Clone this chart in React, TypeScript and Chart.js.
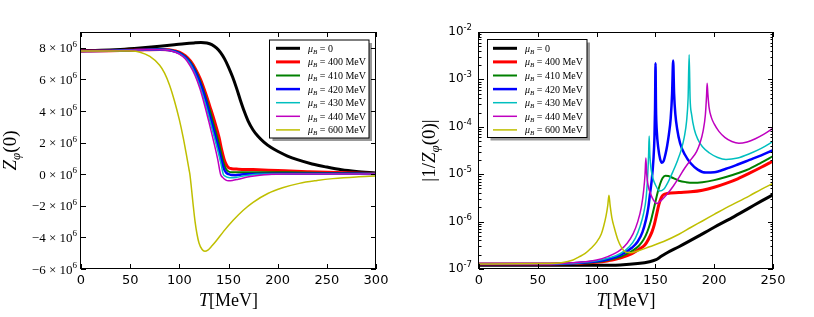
import React, { useEffect, useRef } from 'react';
import { Chart, registerables } from 'chart.js';
Chart.register(...registerables);

const W = 814;
const H = 317;
type Pt = [number, number];

// ---------- labels / styles ----------
const LEGEND_VALUES = ['0', '400 MeV', '410 MeV', '420 MeV', '430 MeV', '440 MeV', '600 MeV'];
const COLORS = ['#000000', '#ff0000', '#008000', '#0000ff', '#00bfbf', '#bf00bf', '#bfbf00'];
const WIDTHS = [3, 3, 2, 2.5, 1.5, 1.5, 1.5];

const xTicksLeft = [0, 50, 100, 150, 200, 250, 300];
const xTicksRight = [0, 50, 100, 150, 200, 250];
const yTicksLeft = [-6, -4, -2, 0, 2, 4, 6, 8]; // in units of 10^6
const yExpRight = [-7, -6, -5, -4, -3, -2];

// ---------- left panel: Z_phi(0) in units of 10^6 ----------
const zBlack: Pt[] = [[0,7.82],[20,7.84],[40,7.9],[60,7.99],[80,8.1],[95,8.19],[105,8.26],[115,8.31],[122,8.33],[128,8.3],[133,8.2],[138,7.98],[142,7.7],[146,7.3],[150,6.78],[154,6.18],[158,5.48],[162,4.7],[166,3.98],[170,3.36],[175,2.8],[180,2.4],[186,2.03],[193,1.7],[200,1.45],[210,1.15],[220,0.92],[235,0.65],[250,0.45],[265,0.28],[280,0.17],[300,0.07]];
const zRed: Pt[] = [[0,7.8],[30,7.81],[50,7.84],[65,7.88],[80,7.9],[90,7.87],[100,7.73],[106,7.5],[111.5,7.15],[116.5,6.65],[121.5,6.0],[126.5,5.15],[131.5,4.2],[136.5,3.2],[140.5,2.3],[143,1.55],[145.5,0.95],[147.8,0.6],[150,0.42],[153,0.35],[160,0.32],[175,0.29],[200,0.23],[230,0.16],[260,0.1],[300,0.05]];
const zGreen: Pt[] = [[0,7.8],[30,7.81],[50,7.84],[65,7.88],[80,7.9],[90,7.86],[100,7.7],[106,7.45],[111.5,7.08],[116.5,6.55],[121.5,5.85],[126.5,4.95],[131.5,3.95],[136,2.9],[140,2.0],[142.8,1.25],[145,0.7],[147.3,0.35],[150,0.17],[154,0.12],[160,0.12],[180,0.13],[210,0.12],[250,0.08],[300,0.04]];
const zBlue: Pt[] = [[0,7.8],[30,7.81],[50,7.84],[65,7.88],[80,7.89],[90,7.85],[100,7.67],[106,7.4],[111.5,7.0],[116.5,6.45],[121.5,5.7],[126.5,4.75],[131,3.7],[135.8,2.6],[139.6,1.7],[142.5,0.95],[145.2,0.35],[147.6,0.1],[150.1,0],[153,-0.05],[157,-0.06],[161,-0.04],[165.1,0],[175,0.02],[200,0.03],[250,0.03],[300,0.02]];
const zCyan: Pt[] = [[0,7.8],[30,7.81],[50,7.84],[65,7.88],[80,7.89],[90,7.84],[100,7.63],[106,7.35],[111.5,6.92],[116,6.35],[121,5.55],[126,4.55],[130.8,3.45],[135.5,2.35],[139.3,1.45],[142.2,0.7],[144.7,0],[147,-0.13],[150,-0.21],[153,-0.23],[158,-0.2],[165,-0.12],[172,-0.05],[178.7,0],[190,0.02],[220,0.03],[260,0.02],[300,0.01]];
const zMagenta: Pt[] = [[0,7.8],[30,7.81],[50,7.84],[65,7.88],[80,7.88],[90,7.83],[100,7.6],[106,7.3],[111,6.85],[116,6.25],[121,5.4],[125.8,4.35],[130.5,3.2],[135,2.05],[139,0.95],[141.9,0],[144,-0.2],[147,-0.36],[150,-0.42],[154,-0.4],[160,-0.32],[168,-0.2],[178,-0.1],[186,-0.04],[194,0],[210,0.02],[250,0.02],[300,0.01]];
const zYellow: Pt[] = [[0,7.8],[30,7.8],[50,7.79],[60,7.72],[70,7.45],[80,6.9],[85,6.4],[90,5.65],[95,4.65],[100,3.45],[104,2.3],[107,1.3],[110,0.25],[110.7,0],[112,-0.7],[114,-1.9],[116,-3.0],[118,-3.8],[120,-4.35],[123,-4.75],[126,-4.87],[129,-4.8],[133,-4.55],[138,-4.18],[145,-3.62],[155,-2.9],[165,-2.28],[175,-1.78],[190,-1.22],[205,-0.86],[222,-0.58],[240,-0.4],[256,-0.28],[280,-0.17],[300,-0.12]];

// ---------- right panel: |1/Z_phi(0)| ----------
const iBlack: Pt[] = [[0,1.2e-7],[60,1.2e-7],[100,1.2e-7],[120,1.22e-7],[135,1.3e-7],[145,1.42e-7],[150,1.55e-7],[155,1.85e-7],[160,2.2e-7],[170,2.95e-7],[185,4.7e-7],[200,7.6e-7],[215,1.2e-6],[230,1.95e-6],[240,2.7e-6],[250,3.7e-6]];
const iRed: Pt[] = [[0,1.27e-7],[60,1.27e-7],[80,1.3e-7],[100,1.38e-7],[110,1.5e-7],[120,1.7e-7],[130,2.1e-7],[136,2.6e-7],[141,3.2e-7],[144,4.2e-7],[147,6e-7],[149,8.5e-7],[151,1.4e-6],[153,2.3e-6],[155,3.2e-6],[157,3.7e-6],[160,3.9e-6],[170,4.1e-6],[180,4.25e-6],[190,4.6e-6],[200,5.3e-6],[210,6.4e-6],[220,8e-6],[230,1.05e-5],[240,1.4e-5],[250,1.9e-5]];
const iGreen: Pt[] = [[0,1.27e-7],[60,1.27e-7],[80,1.31e-7],[100,1.4e-7],[110,1.55e-7],[120,1.8e-7],[130,2.4e-7],[136,3.1e-7],[140,4.2e-7],[143,6e-7],[146,1e-6],[148,1.6e-6],[150,2.6e-6],[152,4.2e-6],[154,6.2e-6],[156,8.2e-6],[158.5,9.3e-6],[161,9.2e-6],[165,8.3e-6],[170,7.3e-6],[176,6.8e-6],[182,6.6e-6],[190,6.8e-6],[200,7.5e-6],[210,8.7e-6],[220,1.05e-5],[230,1.3e-5],[240,1.75e-5],[250,2.4e-5]];
const iBlue: Pt[] = [[0,1.27e-7],[60,1.27e-7],[80,1.32e-7],[100,1.45e-7],[110,1.6e-7],[120,1.95e-7],[130,2.8e-7],[135,3.8e-7],[139,6e-7],[142,1.1e-6],[144,2e-6],[145.5,4e-6],[147,8e-6],[148.3,2e-5],[149.2,6e-5],[149.7,2.5e-4],[150.1,2.2e-3],[150.5,2.5e-4],[151.2,8e-5],[152.5,3.5e-5],[154,2.1e-5],[155.5,1.75e-5],[157,1.9e-5],[158.5,2.6e-5],[160,4e-5],[161.5,7e-5],[163,1.5e-4],[164.2,5e-4],[165.1,2.5e-3],[165.9,5e-4],[167,1.8e-4],[168.5,9e-5],[171,4.5e-5],[175,2.6e-5],[180,1.7e-5],[186,1.25e-5],[193,1.08e-5],[200,1.1e-5],[210,1.3e-5],[220,1.6e-5],[230,2e-5],[240,2.5e-5],[250,3.2e-5]];
const iCyan: Pt[] = [[0,1.27e-7],[60,1.28e-7],[80,1.33e-7],[100,1.5e-7],[110,1.7e-7],[120,2.1e-7],[128,3e-7],[133,4.5e-7],[137,8e-7],[140,1.5e-6],[142,3e-6],[143.3,8e-6],[144.2,2.5e-5],[144.7,6.4e-5],[145.3,2.5e-5],[146.5,1.2e-5],[148,8e-6],[150,6e-6],[153.5,4.4e-6],[157,4.8e-6],[161,7e-6],[165,1.15e-5],[169,2e-5],[172,3.3e-5],[174.5,6e-5],[176.5,1.3e-4],[177.8,4e-4],[178.7,3.3e-3],[179.5,4e-4],[180.8,1.8e-4],[183,9e-5],[186,5.5e-5],[190,3.8e-5],[196,2.8e-5],[203,2.25e-5],[210,2.05e-5],[220,2.2e-5],[230,2.7e-5],[240,3.5e-5],[250,4.9e-5]];
const iMagenta: Pt[] = [[0,1.27e-7],[60,1.28e-7],[80,1.35e-7],[100,1.55e-7],[110,1.85e-7],[120,2.5e-7],[126,3.5e-7],[131,5.5e-7],[135,1e-6],[138,2e-6],[140,4.5e-6],[141.2,1e-5],[141.9,2.2e-5],[142.6,1e-5],[144,5.5e-6],[146,3.8e-6],[148.5,2.8e-6],[151,2.4e-6],[155,2.8e-6],[160,3.8e-6],[165,5.5e-6],[170,8.5e-6],[175,1.35e-5],[180,2e-5],[185,3e-5],[188,4.6e-5],[190.5,8e-5],[192.5,1.8e-4],[193.5,4.5e-4],[194,8.3e-4],[194.6,5e-4],[195.6,2.6e-4],[197.5,1.6e-4],[200,1.15e-4],[204,8e-5],[209,6e-5],[215,4.9e-5],[221,4.5e-5],[228,4.8e-5],[235,5.6e-5],[242,6.9e-5],[250,9.3e-5]];
const iYellow: Pt[] = [[0,1.28e-7],[60,1.3e-7],[70,1.35e-7],[80,1.55e-7],[85,1.8e-7],[90,2.1e-7],[95,2.7e-7],[100,3.7e-7],[104,5.5e-7],[106,8e-7],[108,1.3e-6],[109.5,2.2e-6],[110.5,3.6e-6],[111.5,2.2e-6],[113,1.2e-6],[115,7.5e-7],[118,4.2e-7],[121,2.9e-7],[125,2.25e-7],[129,2.2e-7],[135,2.4e-7],[145,2.95e-7],[157,3.8e-7],[170,5.4e-7],[180,7.5e-7],[190,1.03e-6],[200,1.42e-6],[210,1.95e-6],[220,2.6e-6],[230,3.5e-6],[240,4.8e-6],[250,6.4e-6]];

const LEFT_SERIES = [zBlack, zRed, zGreen, zBlue, zCyan, zMagenta, zYellow];
const RIGHT_SERIES = [iBlack, iRed, iGreen, iBlue, iCyan, iMagenta, iYellow];

const SERIF = '"Liberation Serif", "DejaVu Serif", serif';
const SANS = '"DejaVu Sans", sans-serif';

type Part = { t: string; size: number; italic?: boolean; dy?: number; family?: string };
const fontOf = (p: Part) => `${p.italic ? 'italic ' : ''}${p.size}px ${p.family || SERIF}`;
function richWidth(ctx: CanvasRenderingContext2D, parts: Part[]) {
  let w = 0;
  for (const p of parts) { ctx.font = fontOf(p); w += ctx.measureText(p.t).width; }
  return w;
}
function drawRich(ctx: CanvasRenderingContext2D, parts: Part[], x: number, y: number) {
  for (const p of parts) {
    ctx.font = fontOf(p);
    ctx.fillText(p.t, x, y + (p.dy || 0));
    x += ctx.measureText(p.t).width;
  }
}

type SideCfg = {
  side: 'left' | 'right';
  pad: { left: number; top: number; right: number; bottom: number };
  xMax: number;
  xTicks: number[];
  legend: { x: number; y: number; w: number; h: number; l0: number; l1: number; tx: number; r0: number; step: number };
  yTitleX: number;
  yTitle: Part[];
};

const LEFT_CFG: SideCfg = {
  side: 'left',
  pad: { left: 81, top: 32, right: W - 376, bottom: H - 269 },
  xMax: 300,
  xTicks: xTicksLeft,
  legend: { x: 269.5, y: 40, w: 99.5, h: 98, l0: 276, l1: 300, tx: 308, r0: 48.3, step: 13.6 },
  yTitleX: 10,
  yTitle: [
    { t: 'Z', size: 19, italic: true },
    { t: 'φ', size: 13, italic: true, dy: 4 },
    { t: '(0)', size: 19 },
  ],
};
const RIGHT_CFG: SideCfg = {
  side: 'right',
  pad: { left: 479, top: 32, right: W - 773, bottom: H - 269 },
  xMax: 250,
  xTicks: xTicksRight,
  legend: { x: 487.5, y: 39.5, w: 99.5, h: 98, l0: 493, l1: 517, tx: 525, r0: 48.3, step: 13.6 },
  yTitleX: 429,
  yTitle: [
    { t: '|1/', size: 19 },
    { t: 'Z', size: 19, italic: true },
    { t: 'φ', size: 13, italic: true, dy: 4 },
    { t: '(0)|', size: 19 },
  ],
};

function decorPlugin(cfg: SideCfg) {
  return {
    id: 'decor_' + cfg.side,
    afterDatasetsDraw(chart: any) {
      const ctx: CanvasRenderingContext2D = chart.ctx;
      const a = chart.chartArea;
      const xs = chart.scales.x;
      const ys = chart.scales.y;
      ctx.save();
      ctx.strokeStyle = '#000';
      ctx.fillStyle = '#000';
      ctx.lineWidth = 1;
      // frame
      ctx.strokeRect(Math.round(a.left) - 0.5, Math.round(a.top) + 0.5, Math.round(a.right - a.left), Math.round(a.bottom - a.top) - 1);
      // x ticks (inward, top & bottom)
      ctx.beginPath();
      for (const v of cfg.xTicks) {
        const px = Math.round(xs.getPixelForValue(v)) + 0.5;
        ctx.moveTo(px, a.bottom); ctx.lineTo(px, a.bottom - 5);
        ctx.moveTo(px, a.top); ctx.lineTo(px, a.top + 5);
      }
      // y ticks
      const yMajor: number[] = cfg.side === 'left' ? yTicksLeft : yExpRight.map((e) => Math.pow(10, e));
      for (const v of yMajor) {
        const py = Math.round(ys.getPixelForValue(v)) + 0.5;
        ctx.moveTo(a.left, py); ctx.lineTo(a.left + 5, py);
        ctx.moveTo(a.right, py); ctx.lineTo(a.right - 5, py);
      }
      if (cfg.side === 'right') {
        for (let e = -7; e < -2; e++) {
          for (let m = 2; m <= 9; m++) {
            const py = Math.round(ys.getPixelForValue(m * Math.pow(10, e))) + 0.5;
            ctx.moveTo(a.left, py); ctx.lineTo(a.left + 2.5, py);
            ctx.moveTo(a.right, py); ctx.lineTo(a.right - 2.5, py);
          }
        }
      }
      ctx.stroke();

      // x tick labels
      ctx.font = `13px ${SANS}`;
      ctx.textAlign = 'center';
      ctx.textBaseline = 'alphabetic';
      for (const v of cfg.xTicks) {
        ctx.fillText(String(v), xs.getPixelForValue(v), a.bottom + 15);
      }
      ctx.textAlign = 'left';
      // y tick labels
      if (cfg.side === 'left') {
        for (const v of yTicksLeft) {
          const py = ys.getPixelForValue(v);
          const mant = v < 0 ? '\u2212' + String(-v) : String(v);
          const parts: Part[] = [
            { t: mant + ' \u00d7 10', size: 13 },
            { t: '6', size: 9, dy: -5.5 },
          ];
          const w = richWidth(ctx, parts);
          drawRich(ctx, parts, a.left - 4 - w, py + 4.5);
        }
      } else {
        for (const e of yExpRight) {
          const py = ys.getPixelForValue(Math.pow(10, e));
          const parts: Part[] = [
            { t: '10', size: 12, family: SANS },
            { t: String(e), size: 8.5, family: SANS, dy: -5 },
          ];
          const w = richWidth(ctx, parts);
          drawRich(ctx, parts, a.left - 7 - w, py + 3);
        }
      }

      // x title
      const xt: Part[] = [
        { t: 'T', size: 18, italic: true },
        { t: '[MeV]', size: 18 },
      ];
      const xtw = richWidth(ctx, xt);
      drawRich(ctx, xt, (a.left + a.right) / 2 - xtw / 2, 306);

      // y title (rotated)
      ctx.save();
      ctx.translate(cfg.yTitleX, (a.top + a.bottom) / 2);
      ctx.rotate(-Math.PI / 2);
      const ytw = richWidth(ctx, cfg.yTitle);
      drawRich(ctx, cfg.yTitle, -ytw / 2, 6);
      ctx.restore();

      // legend
      const L = cfg.legend;
      ctx.fillStyle = 'rgba(0,0,0,0.4)';
      ctx.fillRect(L.x + 3, L.y + 3, L.w, L.h);
      ctx.fillStyle = '#fff';
      ctx.fillRect(L.x, L.y, L.w, L.h);
      ctx.strokeStyle = '#000';
      ctx.lineWidth = 1;
      ctx.strokeRect(L.x, L.y, L.w, L.h);
      for (let i = 0; i < LEGEND_VALUES.length; i++) {
        const y = L.r0 + i * L.step;
        ctx.strokeStyle = COLORS[i];
        ctx.lineWidth = WIDTHS[i];
        ctx.beginPath();
        ctx.moveTo(L.l0, y);
        ctx.lineTo(L.l1, y);
        ctx.stroke();
        ctx.fillStyle = '#000';
        drawRich(ctx, [
          { t: 'μ', size: 10, italic: true },
          { t: 'B', size: 7, italic: true, dy: 2 },
          { t: ' = ' + LEGEND_VALUES[i], size: 10 },
        ], L.tx, y + 3.5);
      }
      ctx.restore();
    },
  };
}

function makeChart(canvas: HTMLCanvasElement, cfg: SideCfg) {
  const series = cfg.side === 'left' ? LEFT_SERIES : RIGHT_SERIES;
  return new Chart(canvas, {
    type: 'line',
    data: {
      datasets: series.map((s, i) => ({
        label: LEGEND_VALUES[i],
        data: s.map(([x, y]) => ({ x, y })),
        borderColor: COLORS[i],
        backgroundColor: COLORS[i],
        borderWidth: WIDTHS[i],
        pointRadius: 0,
        fill: false,
        cubicInterpolationMode: 'monotone' as const,
        order: -i,
      })),
    },
    options: {
      animation: false,
      responsive: false,
      maintainAspectRatio: false,
      events: [],
      layout: { padding: cfg.pad },
      plugins: { legend: { display: false }, tooltip: { enabled: false } },
      scales: {
        x: { type: 'linear', min: 0, max: cfg.xMax, display: false },
        y: cfg.side === 'left'
          ? { type: 'linear', min: -6, max: 9, display: false }
          : { type: 'logarithmic', min: 1e-7, max: 1e-2, display: false },
      },
    } as any,
    plugins: [decorPlugin(cfg)],
  });
}

export default function App() {
  const leftRef = useRef<HTMLCanvasElement>(null);
  const rightRef = useRef<HTMLCanvasElement>(null);
  useEffect(() => {
    const c1 = makeChart(leftRef.current!, LEFT_CFG);
    const c2 = makeChart(rightRef.current!, RIGHT_CFG);
    return () => { c1.destroy(); c2.destroy(); };
  }, []);
  const cs: React.CSSProperties = { position: 'absolute', left: 0, top: 0, width: W, height: H };
  return (
    <div style={{ position: 'fixed', left: 0, top: 0, width: W, height: H, background: '#fff' }}>
      <canvas ref={leftRef} width={W} height={H} style={cs} />
      <canvas ref={rightRef} width={W} height={H} style={cs} />
    </div>
  );
}
